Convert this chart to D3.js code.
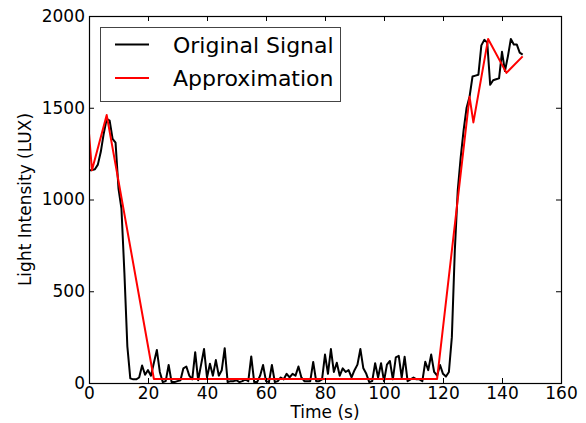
<html>
  <head>
    <meta charset="UTF-8">
    <script src="https://cdnjs.cloudflare.com/ajax/libs/d3/7.8.5/d3.min.js"></script>
    <style>
      body {
        margin: 0;
        background: #fff;
        font-family: 'DejaVu Sans', sans-serif;
      }
      .tick-label {
        font-size: 17px;
        fill: #000;
      }
      .axis-label {
        font-size: 17px;
        fill: #000;
      }
      .legend-text {
        font-size: 22px;
        fill: #000;
      }
    </style>
  </head>
  <body>
    <svg id="chart"></svg>
    <script>
      // light readings, one sample per second starting at t = 0
      const originalSignal = [
        1160, 1160, 1165, 1190, 1260, 1360, 1440, 1430, 1330, 1310,
        1060, 950, 600, 200, 25, 20, 20, 30, 95, 45,
        70, 40, 110, 180, 60, 5, 10, 98, 5, 5,
        10, 15, 80, 90, 40, 20, 168, 15, 100, 185,
        30, 105, 40, 125, 40, 70, 190, 5, 10, 10,
        15, 5, 10, 20, 10, 145, 5, 5, 40, 98,
        10, 5, 98, 5, 10, 30, 20, 50, 30, 50,
        40, 90, 30, 10, 10, 10, 115, 10, 10, 20,
        155, 50, 185, 60, 110, 40, 80, 60, 70, 30,
        70, 100, 185, 80, 50, 5, 10, 108, 30, 108,
        10, 100, 120, 20, 140, 148, 30, 143, 10, 20,
        30, 20, 20, 10, 116, 70, 155, 60, 40, 98,
        50, 35, 60, 250, 720, 1050, 1230, 1380, 1500, 1560,
        1670, 1675, 1680, 1840, 1870, 1855, 1625, 1650, 1655, 1660,
        1805, 1700, 1780, 1875, 1845, 1845, 1800, 1790
      ]
      const sampleStep = 1

      // piecewise linear approximation vertices
      const approxTimes = [0, 1, 6, 22, 118, 129, 130.3, 135.3, 141.5, 147]
      const approxValues = [1360, 1160, 1460, 22, 22, 1560, 1420, 1875, 1690, 1780]

      const xTicks = [0, 20, 40, 60, 80, 100, 120, 140, 160]
      const yTicks = [0, 500, 1000, 1500, 2000]
      const seriesNames = ['Original Signal', 'Approximation']
      const seriesColors = ['#000000', '#ff0000']

      const width = 586
      const height = 423
      const plot = { left: 89, right: 561, top: 16, bottom: 383 }

      const svg = d3.select('#chart')
        .attr('width', width)
        .attr('height', height)

      const x = d3.scaleLinear().domain([0, 160]).range([plot.left, plot.right])
      const y = d3.scaleLinear().domain([0, 2000]).range([plot.bottom, plot.top])

      const line = d3.line()
        .x(d => x(d[0]))
        .y(d => y(d[1]))

      const original = originalSignal.map((v, i) => [i * sampleStep, v])
      const approx = approxTimes.map((t, i) => [t, approxValues[i]])

      svg.append('defs').append('clipPath')
        .attr('id', 'clip')
        .append('rect')
        .attr('x', plot.left)
        .attr('y', plot.top)
        .attr('width', plot.right - plot.left)
        .attr('height', plot.bottom - plot.top)

      const lines = svg.append('g').attr('clip-path', 'url(#clip)')

      lines.append('path')
        .datum(original)
        .attr('d', line)
        .attr('fill', 'none')
        .attr('stroke', seriesColors[0])
        .attr('stroke-width', 2)
        .attr('stroke-linejoin', 'round')

      lines.append('path')
        .datum(approx)
        .attr('d', line)
        .attr('fill', 'none')
        .attr('stroke', seriesColors[1])
        .attr('stroke-width', 2)
        .attr('stroke-linejoin', 'round')

      // matplotlib-style ticks on all four sides, pointing inwards
      const tickLen = 5
      const fmt = d3.format('d')
      const axisBottom = d3.axisBottom(x).tickValues(xTicks).tickFormat(fmt).tickSizeInner(-tickLen).tickSizeOuter(0).tickPadding(4)
      const axisTop = d3.axisTop(x).tickValues(xTicks).tickSizeInner(-tickLen).tickSizeOuter(0).tickFormat('')
      const axisLeft = d3.axisLeft(y).tickValues(yTicks).tickFormat(fmt).tickSizeInner(-tickLen).tickSizeOuter(0).tickPadding(4)
      const axisRight = d3.axisRight(y).tickValues(yTicks).tickSizeInner(-tickLen).tickSizeOuter(0).tickFormat('')

      function styleAxis(g) {
        g.select('.domain').remove()
        g.selectAll('.tick line').attr('stroke', '#000').attr('stroke-width', 1)
        g.selectAll('.tick text')
          .attr('class', 'tick-label')
          .style('font-family', "'DejaVu Sans', sans-serif")
          .style('font-size', '17px')
      }

      svg.append('g').attr('transform', `translate(0,${plot.bottom})`).call(axisBottom).call(styleAxis)
      svg.append('g').attr('transform', `translate(0,${plot.top})`).call(axisTop).call(styleAxis)
      svg.append('g').attr('transform', `translate(${plot.left},0)`).call(axisLeft).call(styleAxis)
      svg.append('g').attr('transform', `translate(${plot.right},0)`).call(axisRight).call(styleAxis)

      svg.append('rect')
        .attr('x', plot.left + 0.5)
        .attr('y', plot.top + 0.5)
        .attr('width', plot.right - plot.left)
        .attr('height', plot.bottom - plot.top)
        .attr('fill', 'none')
        .attr('stroke', '#000')
        .attr('stroke-width', 1.2)

      svg.append('text')
        .attr('class', 'axis-label')
        .attr('x', (plot.left + plot.right) / 2)
        .attr('y', 418)
        .attr('text-anchor', 'middle')
        .text('Time (s)')

      svg.append('text')
        .attr('class', 'axis-label')
        .attr('transform', `translate(31,${(plot.top + plot.bottom) / 2}) rotate(-90)`)
        .attr('text-anchor', 'middle')
        .text('Light Intensity (LUX)')

      // legend
      const legend = svg.append('g')
      legend.append('rect')
        .attr('x', 100.5)
        .attr('y', 27.5)
        .attr('width', 240)
        .attr('height', 74)
        .attr('fill', '#fff')
        .attr('stroke', '#444')
        .attr('stroke-width', 1)

      seriesNames.forEach((name, i) => {
        const ly = 44.5 + i * 33.5
        legend.append('line')
          .attr('x1', 115)
          .attr('x2', 149)
          .attr('y1', ly)
          .attr('y2', ly)
          .attr('stroke', seriesColors[i])
          .attr('stroke-width', 2)
        legend.append('text')
          .attr('class', 'legend-text')
          .attr('x', 173)
          .attr('y', ly + 8)
          .text(name)
      })
    </script>
  </body>
</html>
